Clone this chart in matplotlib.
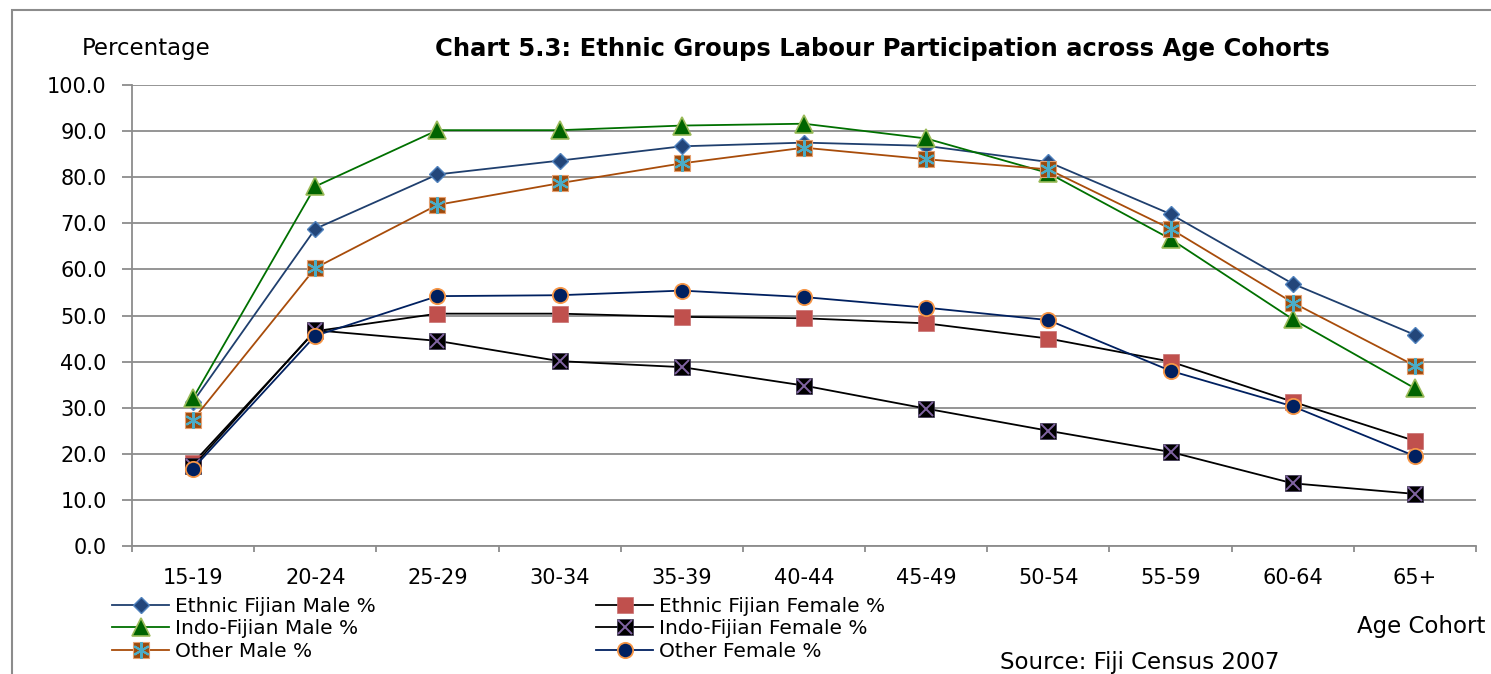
import numpy as np
import matplotlib
matplotlib.use("Agg")
import matplotlib.pyplot as plt
from matplotlib.patches import Rectangle
from matplotlib.legend_handler import HandlerTuple

plt.rcParams['font.family'] = ['DejaVu Sans']

# age cohorts and participation rates (%)
cohorts = ['15-19', '20-24', '25-29', '30-34', '35-39', '40-44',
           '45-49', '50-54', '55-59', '60-64', '65+']
ethnic_fijian_male = [31.3, 68.8, 80.6, 83.6, 86.7, 87.5, 86.8, 83.3, 72.0, 56.9, 45.8]
ethnic_fijian_female = [18.0, 46.6, 50.4, 50.4, 49.7, 49.4, 48.3, 45.0, 40.0, 31.3, 22.8]
indo_fijian_male = [32.1, 78.0, 90.2, 90.2, 91.2, 91.6, 88.4, 80.9, 66.6, 49.2, 34.2]
indo_fijian_female = [17.3, 46.8, 44.5, 40.1, 38.8, 34.8, 29.8, 25.0, 20.4, 13.6, 11.3]
other_male = [27.4, 60.3, 74.0, 78.7, 83.0, 86.4, 83.9, 81.7, 68.8, 52.8, 39.1]
other_female = [16.8, 45.6, 54.2, 54.4, 55.4, 54.0, 51.7, 49.0, 38.0, 30.3, 19.5]

W, H = 1491, 674
fig = plt.figure(figsize=(W / 100, H / 100), dpi=100)
ax = fig.add_axes([132 / W, 1 - 546 / H, (1476 - 132) / W, (546 - 85) / H])

x = np.arange(len(cohorts))
lw = 1.3

h_efm = ax.plot(x, ethnic_fijian_male, color='#1F3F6E', lw=lw, marker='D', ms=8.5,
                mfc='#23467A', mec='#4F81BD', mew=1.0, zorder=5)[0]
h_ifm = ax.plot(x, indo_fijian_male, color='#007000', lw=lw, marker='^', ms=13,
                mfc='#006400', mec='#9BBB59', mew=1.2, zorder=5)[0]
h_om = ax.plot(x, other_male, color='#A84C0A', lw=lw, marker='s', ms=12,
               mfc='#9C4A0C', mec='#E6A070', mew=0.8, zorder=5)[0]
h_om2 = ax.plot(x, other_male, ls='none', marker=(6, 2, 0), ms=12,
                mec='#4BACC6', mew=1.5, zorder=6)[0]
h_eff = ax.plot(x, ethnic_fijian_female, color='black', lw=lw, marker='s', ms=11,
                mfc='#C0504D', mec='#C87070', mew=0.5, zorder=5)[0]
h_iff = ax.plot(x, indo_fijian_female, color='black', lw=lw, marker='s', ms=12,
                mfc='black', mec='#3A3050', mew=0.5, zorder=5)[0]
h_iff2 = ax.plot(x, indo_fijian_female, ls='none', marker='x', ms=10,
                 mec='#8064A2', mew=1.4, zorder=6)[0]
h_of = ax.plot(x, other_female, color='#002060', lw=lw, marker='o', ms=11,
               mfc='#002060', mec='#F79646', mew=1.3, zorder=7)[0]

ax.set_xlim(-0.5, len(cohorts) - 0.5)
ax.set_ylim(0, 100)
ax.set_yticks(np.arange(0, 101, 10))
ax.set_yticklabels(['%.1f' % v for v in np.arange(0, 101, 10)])
ax.set_xticks(x)
ax.set_xticklabels(cohorts)
ax.set_xticks(np.arange(-0.5, len(cohorts), 1), minor=True)

grid_c = '#8C8C8C'
ax.yaxis.grid(True, color=grid_c, lw=1.3)
ax.set_axisbelow(True)
for s in ['top', 'right']:
    ax.spines[s].set_visible(False)
for s in ['left', 'bottom']:
    ax.spines[s].set_color(grid_c)
    ax.spines[s].set_linewidth(1.3)

ax.tick_params(axis='y', length=7.2, width=1.3, color=grid_c, pad=11,
               labelsize=15, labelcolor='black')
ax.tick_params(axis='x', which='major', length=0, pad=16, labelsize=15)
ax.tick_params(axis='x', which='minor', length=4, width=1.3, color=grid_c)

fig.text(82 / W, 1 - 48 / H, 'Percentage', fontsize=16.5, ha='left', va='center')
fig.text(882 / W, 1 - 49 / H,
         'Chart 5.3: Ethnic Groups Labour Participation across Age Cohorts',
         fontsize=17.5, fontweight='bold', ha='center', va='center')
fig.text(1485 / W, 1 - 627 / H, 'Age Cohort', fontsize=16.5, ha='right', va='center')
fig.text(1000 / W, 1 - 662 / H, 'Source: Fiji Census 2007', fontsize=16.5,
         ha='left', va='center')

leg_kw = dict(loc='upper left', frameon=False, fontsize=14.5, handlelength=2.85,
              handletextpad=0.3, labelspacing=0.17, borderpad=0, borderaxespad=0,
              numpoints=1, handler_map={tuple: HandlerTuple(ndivide=1, pad=0)})
leg1 = fig.legend([h_efm, h_ifm, (h_om, h_om2)],
                  ['Ethnic Fijian Male %', 'Indo-Fijian Male %', 'Other Male %'],
                  bbox_to_anchor=(112 / W, 1 - 597 / H), **leg_kw)
leg2 = fig.legend([h_eff, (h_iff, h_iff2), h_of],
                  ['Ethnic Fijian Female %', 'Indo-Fijian Female %', 'Other Female %'],
                  bbox_to_anchor=(596 / W, 1 - 597 / H), **leg_kw)

# outer chart frame
fig.patches.append(Rectangle((12 / W, -0.2), 1.2, 1.2 - 10 / H, transform=fig.transFigure,
                             fill=False, ec='#8C8C8C', lw=1.5))

fig.savefig('out.png', dpi=100)
